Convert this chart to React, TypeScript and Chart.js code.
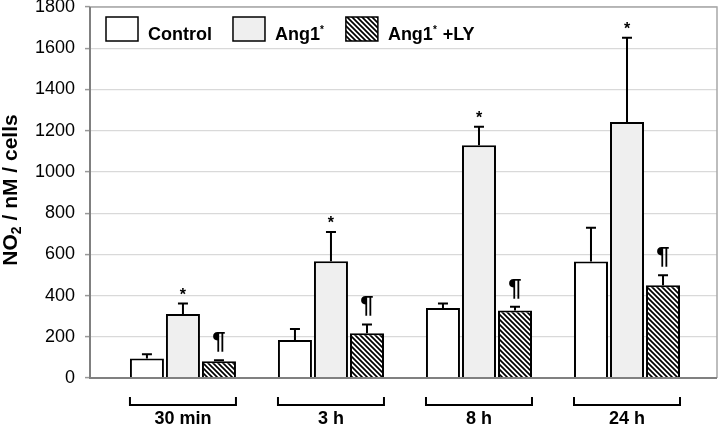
import React, { useEffect, useRef } from "react";
import { Chart, registerables } from "chart.js";

Chart.register(...registerables);

const categories = ["30 min", "3 h", "8 h", "24 h"];
const controlValues = [95, 184, 340, 565];
const controlErrors = [20, 54, 22, 164];
const ang1Values = [310, 566, 1129, 1242];
const ang1Errors = [52, 142, 90, 409];
const lyValues = [81, 217, 327, 450];
const lyErrors = [5, 43, 19, 48];
const ang1Marks = ["*", "*", "*", "*"];
const lyMarks = ["¶", "¶", "¶", "¶"];
const yTicks = [0, 200, 400, 600, 800, 1000, 1200, 1400, 1600, 1800];

const FONT = "'Liberation Sans', Arial, Helvetica, sans-serif";

function makeHatch(): CanvasPattern | string {
  const c = document.createElement("canvas");
  const s = 5;
  c.width = s;
  c.height = s;
  const g = c.getContext("2d");
  if (!g) return "#555";
  g.fillStyle = "#ffffff";
  g.fillRect(0, 0, s, s);
  g.strokeStyle = "#000000";
  g.lineWidth = 1.7;
  g.beginPath();
  g.moveTo(-1, -1);
  g.lineTo(s + 1, s + 1);
  g.moveTo(-s - 1, -1);
  g.lineTo(1, s + 1);
  g.moveTo(s - 1, -1);
  g.lineTo(2 * s + 1, s + 1);
  g.stroke();
  const p = g.createPattern(c, "repeat");
  return p || "#555";
}

export default function App() {
  const ref = useRef<HTMLCanvasElement | null>(null);

  useEffect(() => {
    const canvas = ref.current;
    if (!canvas) return;
    const hatch = makeHatch();
    const errorSets = [controlErrors, ang1Errors, lyErrors];
    const markSets = [null, ang1Marks, lyMarks];

    const decor = {
      id: "decor",
      afterDatasetsDraw(chart: any) {
        const ctx = chart.ctx;
        const yScale = chart.scales.y;
        const area = chart.chartArea;
        ctx.save();
        // error bars
        chart.data.datasets.forEach((ds: any, di: number) => {
          const meta = chart.getDatasetMeta(di);
          meta.data.forEach((bar: any, i: number) => {
            const v = ds.data[i].y;
            const e = errorSets[di][i];
            const yTop = yScale.getPixelForValue(v);
            const yErr = yScale.getPixelForValue(v + e);
            ctx.strokeStyle = "#000";
            ctx.lineWidth = 2;
            ctx.beginPath();
            ctx.moveTo(bar.x, yTop);
            ctx.lineTo(bar.x, yErr);
            ctx.moveTo(bar.x - 5, yErr);
            ctx.lineTo(bar.x + 5, yErr);
            ctx.stroke();
            const marks = markSets[di];
            if (marks && marks[i]) {
              ctx.fillStyle = "#000";
              ctx.textAlign = "center";
              if (marks[i] === "*") {
                ctx.font = `bold 16px ${FONT}`;
                ctx.textBaseline = "middle";
                ctx.fillText(marks[i], bar.x, yErr - 8);
              } else {
                ctx.font = `bold 24px ${FONT}`;
                ctx.textBaseline = "alphabetic";
                ctx.fillText(marks[i], bar.x, yErr - 11);
              }
            }
          });
        });
        // frame top/right
        ctx.strokeStyle = "#a8a8a8";
        ctx.lineWidth = 1.5;
        ctx.beginPath();
        ctx.moveTo(area.left, area.top);
        ctx.lineTo(area.right, area.top);
        ctx.lineTo(area.right, area.bottom);
        ctx.stroke();
        ctx.strokeStyle = "#808080";
        ctx.lineWidth = 2;
        ctx.beginPath();
        ctx.moveTo(area.left, area.top);
        ctx.lineTo(area.left, area.bottom);
        ctx.lineTo(area.right, area.bottom);
        ctx.stroke();

        // category brackets & labels
        const xScale = chart.scales.x;
        categories.forEach((label, i) => {
          const cx = xScale.getPixelForValue(i);
          const half = 53;
          const yb = 405;
          ctx.strokeStyle = "#000";
          ctx.lineWidth = 2;
          ctx.beginPath();
          ctx.moveTo(cx - half, yb - 8);
          ctx.lineTo(cx - half, yb);
          ctx.lineTo(cx + half, yb);
          ctx.lineTo(cx + half, yb - 8);
          ctx.stroke();
          ctx.fillStyle = "#000";
          ctx.font = `bold 18px ${FONT}`;
          ctx.textAlign = "center";
          ctx.textBaseline = "alphabetic";
          ctx.fillText(label, cx, 424);
        });

        // y title with subscript
        ctx.save();
        ctx.translate(17, 190);
        ctx.rotate(-Math.PI / 2);
        const big = `bold 21px ${FONT}`;
        const small = `bold 14px ${FONT}`;
        const parts: [string, string, number][] = [
          ["NO", big, 0],
          ["2", small, 4],
          [" / nM / cells", big, 0],
        ];
        let total = 0;
        parts.forEach(([t, f]) => {
          ctx.font = f;
          total += ctx.measureText(t).width;
        });
        let x = -total / 2;
        ctx.textAlign = "left";
        ctx.textBaseline = "alphabetic";
        parts.forEach(([t, f, dy]) => {
          ctx.font = f;
          ctx.fillText(t, x, dy);
          x += ctx.measureText(t).width;
        });
        ctx.restore();

        // legend
        const legendItems: { parts: [string, boolean][]; fill: any }[] = [
          { parts: [["Control", false]], fill: "#ffffff" },
          { parts: [["Ang1", false], ["*", true]], fill: "#efefef" },
          { parts: [["Ang1", false], ["*", true], [" +LY", false]], fill: hatch },
        ];
        let lx = 106;
        const boxTop = 17;
        const boxW = 32;
        const boxH = 24;
        legendItems.forEach((item) => {
          ctx.fillStyle = item.fill;
          ctx.fillRect(lx, boxTop, boxW, boxH);
          ctx.strokeStyle = "#000";
          ctx.lineWidth = 1.5;
          ctx.strokeRect(lx, boxTop, boxW, boxH);
          let tx = lx + boxW + 10;
          ctx.fillStyle = "#000";
          ctx.textAlign = "left";
          ctx.textBaseline = "alphabetic";
          item.parts.forEach(([t, sup]) => {
            ctx.font = sup ? `bold 10px ${FONT}` : `bold 18px ${FONT}`;
            ctx.fillText(t, tx, sup ? 33 : 40);
            tx += ctx.measureText(t).width + (sup ? 1 : 0);
          });
          lx = tx + 21;
        });
        ctx.restore();
      },
    };

    const mk = (vals: number[]) => vals.map((v, i) => ({ x: i, y: v }));

    const chart = new Chart(canvas, {
      type: "bar",
      data: {
        datasets: [
          {
            label: "Control",
            data: mk(controlValues) as any,
            backgroundColor: "#ffffff",
            borderColor: "#000000",
            borderWidth: 2,
          },
          {
            label: "Ang1*",
            data: mk(ang1Values) as any,
            backgroundColor: "#efefef",
            borderColor: "#000000",
            borderWidth: 2,
          },
          {
            label: "Ang1* +LY",
            data: mk(lyValues) as any,
            backgroundColor: hatch as any,
            borderColor: "#000000",
            borderWidth: 2,
          },
        ],
      },
      options: {
        animation: false,
        responsive: false,
        devicePixelRatio: 1,
        categoryPercentage: 0.73,
        barPercentage: 0.944,
        layout: { padding: { left: 0, top: 7, right: 3, bottom: 0 } },
        plugins: {
          legend: { display: false },
          tooltip: { enabled: false },
        },
        scales: {
          x: {
            type: "linear",
            min: -0.628,
            max: 3.608,
            offset: false,
            grid: { display: false },
            border: { display: false },
            ticks: { display: false },
            afterBuildTicks: (s: any) => {
              s.ticks = categories.map((_, i) => ({ value: i }));
            },
            afterFit: (s: any) => {
              s.height = 47;
              s.paddingLeft = 0;
              s.paddingRight = 0;
            },
          },
          y: {
            min: 0,
            max: 1800,
            afterBuildTicks: (s: any) => {
              s.ticks = yTicks.map((v) => ({ value: v }));
            },
            grid: {
              color: (c: any) => (c.tick && c.tick.value === 0 ? "rgba(0,0,0,0)" : "#d9d9d9"),
              lineWidth: 1.2,
              drawTicks: true,
              tickLength: 5,
              tickColor: "#999999",
              tickWidth: 1.5,
            },
            border: { display: false },
            ticks: {
              padding: 10,
              color: "#000",
              font: { family: FONT, size: 18 },
              callback: (v: any) => String(v),
            },
            afterFit: (s: any) => {
              s.width = 90;
              s.paddingTop = 0;
              s.paddingBottom = 0;
            },
          },
        },
      } as any,
      plugins: [decor],
    });
    return () => chart.destroy();
  }, []);

  return (
    <div style={{ position: "absolute", left: 0, top: 0, width: 720, height: 425, background: "#fff" }}>
      <canvas ref={ref} width={720} height={425} style={{ display: "block", width: 720, height: 425 }} />
    </div>
  );
}
